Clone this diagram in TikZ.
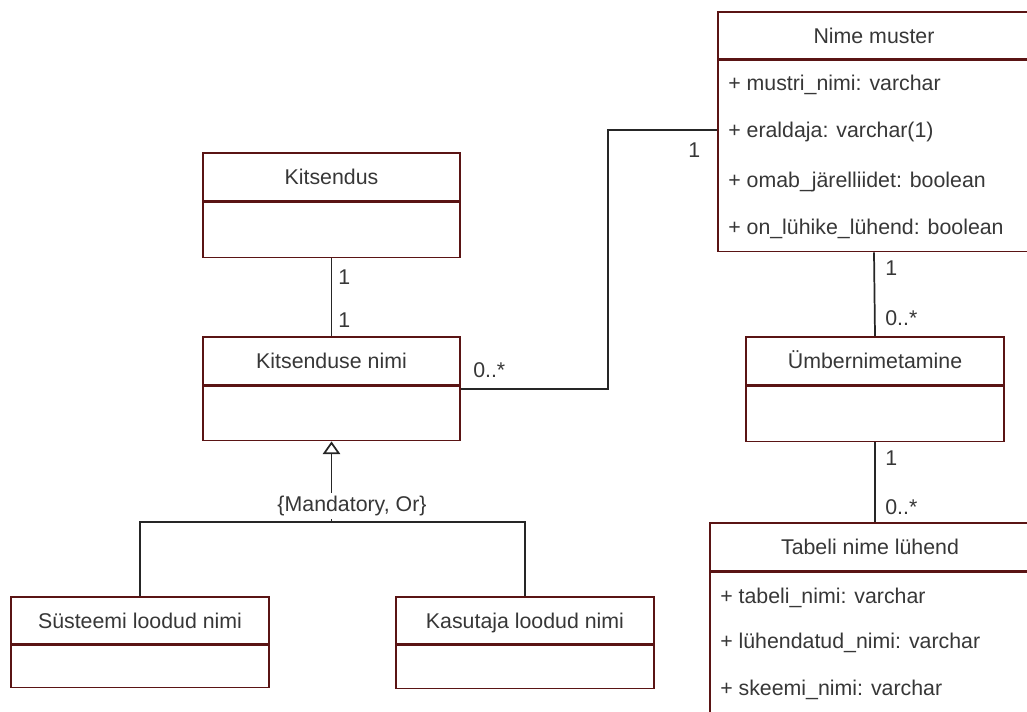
\documentclass[tikz,border=0pt]{standalone}
\usepackage{fontspec}
\setmainfont{Liberation Sans}
\usetikzlibrary{arrows.meta,positioning,calc}
\definecolor{umlframe}{RGB}{90,20,20}
\definecolor{umltext}{RGB}{55,55,55}

\tikzset{
  classhead/.style={draw=umlframe,line width=1.2pt,inner sep=0pt,fill=white,text=umltext,
                    text height=11.5pt,text depth=0pt},
  classbody/.style={draw=umlframe,line width=1.2pt,inner sep=0pt,fill=white},
  % box size in pixels of the 1027x711 page
  pxsize/.style 2 args={minimum width=#1*0.75pt,minimum height=#2*0.75pt},
  attr/.style={anchor=west,inner sep=0pt,text=umltext,text height=11.5pt,text depth=0pt},
  mult/.style={anchor=west,inner sep=0pt,text=umltext,text height=11.5pt,text depth=0pt},
  assoc/.style={line width=1.3pt,black!85},
}

\begin{document}
\begin{tikzpicture}[x=0.75pt,y=-0.75pt,font=\fontsize{16}{19}\selectfont]
  % --- page: pixel grid 1027 x 711, y grows downwards ---
  \useasboundingbox (0,0) rectangle (1027,711);
  % --- left classes ---
  \node[classhead,pxsize={257}{48}] (kits) at (331.5,177) {Kitsendus};
  \node[classbody,pxsize={257}{55},below=0pt of kits] (kitsbody) {};
  \node[classhead,pxsize={257}{48}] (kitsn) at (331.5,361) {Kitsenduse nimi};
  \node[classbody,pxsize={257}{54},below=0pt of kitsn] (kitsnbody) {};
  \node[classhead,pxsize={258}{47}] (sysname) at (140,620.5) {Süsteemi loodud nimi};
  \node[classbody,pxsize={258}{42},below=0pt of sysname] (sysbody) {};
  \node[classhead,pxsize={258}{47}] (usrname) at (525,620.5) {Kasutaja loodud nimi};
  \node[classbody,pxsize={258}{43},below=0pt of usrname] (usrbody) {};
  % --- right classes (cut by the page edge) ---
  \node[classhead,pxsize={312}{47}] (pattern) at (874,35.5) {Nime muster};
  \node[classbody,pxsize={312}{191},below=0pt of pattern] (patternbody) {};
  \foreach \y/\t [count=\i] in {83/{+ mustri\_nimi: varchar},
                                130/{+ eraldaja: varchar(1)},
                                180/{+ omab\_järelliidet: boolean},
                                227/{+ on\_lühike\_lühend: boolean}}{
    \node[attr] (pattern-a\i) at (728,\y) {\t};}
  \node[classhead,pxsize={258}{48}] (rename) at (875,361) {Ümbernimetamine};
  \node[classbody,pxsize={258}{55},below=0pt of rename] (renamebody) {};
  \node[classhead,pxsize={320}{48}] (abbr) at (870,547) {Tabeli nime lühend};
  \node[classbody,pxsize={320}{160},below=0pt of abbr] (abbrbody) {};
  \foreach \y/\t [count=\i] in {596/{+ tabeli\_nimi: varchar},
                                641/{+ lühendatud\_nimi: varchar},
                                688/{+ skeemi\_nimi: varchar}}{
    \node[attr] (abbr-a\i) at (720,\y) {\t};}
  % --- associations ---
  \draw[assoc] (kitsbody.south) -- (kitsn.north);
  \node[mult] (m-kits) at (338,277) {1};
  \node[mult] (m-kitsn) at (338,320) {1};
  \coordinate (bend) at (608,260);
  \draw[assoc] ([yshift=-2.25pt]kitsnbody.north east) -| (bend) |- (pattern-a2.west -| patternbody.west);
  \node[mult] (m-many) at (473,370) {0..*};
  \node[mult] (m-one) at (688,150) {1};
  \draw[assoc] (patternbody.south) -- (rename.north);
  \node[mult] (m-pat) at (885,268) {1};
  \node[mult] (m-ren) at (885,318) {0..*};
  \draw[assoc] (renamebody.south) -- (renamebody.south |- abbr.north);
  \node[mult] (m-ren2) at (885,458) {1};
  \node[mult] (m-abbr) at (885,507) {0..*};
  % --- generalization set ---
  \coordinate (join) at (331.5,522);
  \draw[assoc] (sysname.north) |- (join);
  \draw[assoc] (usrname.north) |- (join);
  \draw[assoc,-{Triangle[open,length=9.5pt,width=13pt,fill=white]}] (join) -- (kitsnbody.south);
  \node[fill=white,inner sep=1pt,minimum height=20pt,text=umltext] (genset) at (352,506) {\{Mandatory, Or\}};
\end{tikzpicture}
\end{document}
